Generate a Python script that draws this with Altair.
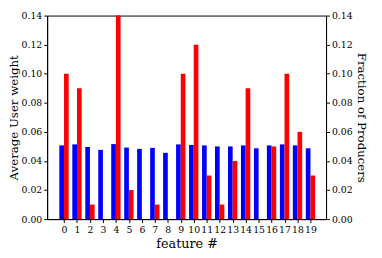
import altair as alt
import pandas as pd

features = list(range(20))
user_weight = [0.0507, 0.0514, 0.0496, 0.0476, 0.0516, 0.0492, 0.0483, 0.0490, 0.0456, 0.0514,
               0.0510, 0.0507, 0.0500, 0.0500, 0.0507, 0.0487, 0.0507, 0.0514, 0.0507, 0.0487]
producers = [0.10, 0.09, 0.01, 0.0, 0.14, 0.02, 0.0, 0.01, 0.0, 0.10,
             0.12, 0.03, 0.01, 0.04, 0.09, 0.0, 0.05, 0.10, 0.06, 0.03]
y_ticks = [0, 0.02, 0.04, 0.06, 0.08, 0.10, 0.12, 0.14]

df = pd.DataFrame({"feature": features, "weight": user_weight, "frac": producers})

FONT = "DejaVu Serif"
xscale = alt.Scale(domain=[-1.3, 20.2], nice=False, zero=False)
yscale = alt.Scale(domain=[0, 0.14], nice=False)

common = dict(grid=False, tickColor="black", domainColor="black", labelColor="black",
              titleColor="black", tickSize=3.5, labelFontSize=9.5,
              titleFontWeight="normal", labelFont=FONT, titleFont=FONT, labelPadding=2)

xaxis = alt.Axis(values=features, format="d", title="feature #", titlePadding=4,
                 titleFontSize=13, labelFlush=False, labelOverlap=False, **common)

base = alt.Chart(df).transform_calculate(
    left="datum.feature - 0.36", right="datum.feature + 0.36"
)

blue = base.mark_bar(color="#0000ff").encode(
    x=alt.X("left:Q", scale=xscale, axis=xaxis),
    x2="feature:Q",
    y=alt.Y("weight:Q", scale=yscale,
            axis=alt.Axis(values=y_ticks, format=".2f", title="Average User weight",
                          orient="left", titlePadding=1, titleFontSize=12, **common)),
    y2=alt.Y2(datum=0),
)

red = base.mark_bar(color="#ff0000").encode(
    x=alt.X("feature:Q", scale=xscale, axis=xaxis),
    x2="right:Q",
    y=alt.Y("frac:Q", scale=yscale,
            axis=alt.Axis(values=y_ticks, format=".2f", title="Fraction of Producers",
                          orient="right", titlePadding=3, titleFontSize=12, **common)),
    y2=alt.Y2(datum=0),
)

chart = alt.layer(blue, red).resolve_scale(y="independent").properties(
    width=285, height=208,
    autosize=alt.AutoSizeParams(type="none"),
    padding={"left": 40, "top": 5, "right": 49, "bottom": 37},
).configure_view(stroke="black", strokeWidth=1)

chart.save("out.html", embed_options={"renderer": "svg", "actions": False})
